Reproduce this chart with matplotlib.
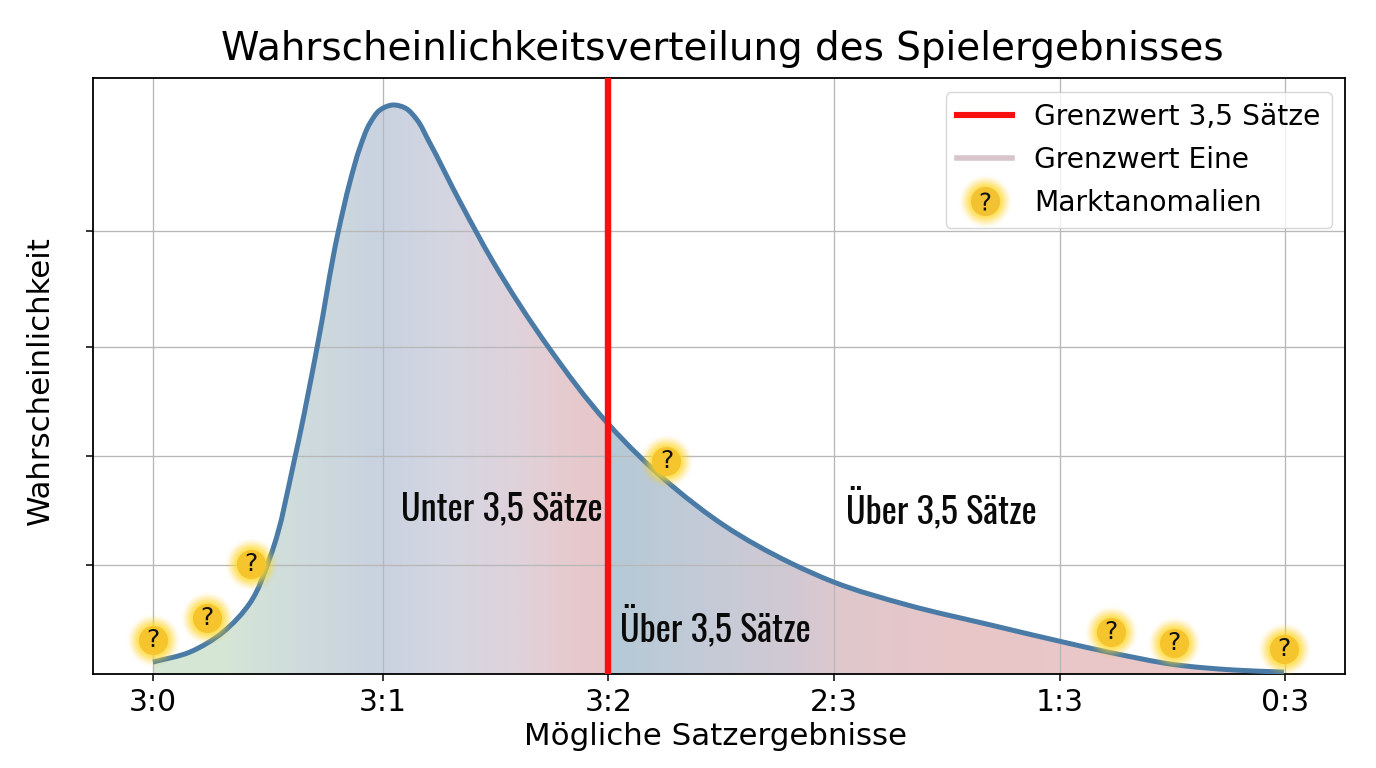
import matplotlib
matplotlib.use("Agg")
import matplotlib.pyplot as plt
import numpy as np
from matplotlib.colors import LinearSegmentedColormap
from matplotlib.legend_handler import HandlerTuple
from matplotlib.lines import Line2D
from matplotlib.patches import PathPatch
from matplotlib.path import Path

# Distribution curve: position on the score axis and probability
curve_x = [0.00, 0.164, 0.310, 0.429, 0.518, 0.628, 0.726, 0.819, 0.872, 0.916, 0.960, 1.004,
           1.062, 1.115, 1.168, 1.217, 1.358, 1.504, 1.748, 2.009, 2.301, 2.522, 2.819, 3.009,
           3.336, 3.704, 4.004, 4.243, 4.513, 4.779, 5.00]
curve_y = [0.012, 0.022, 0.042, 0.071, 0.117, 0.217, 0.327, 0.442, 0.493, 0.527, 0.551, 0.564,
           0.569, 0.566, 0.554, 0.534, 0.472, 0.412, 0.327, 0.251, 0.187, 0.149, 0.111, 0.092,
           0.069, 0.049, 0.033, 0.021, 0.0095, 0.004, 0.002]

# Market anomalies
anomaly_x = [0.00, 0.239, 0.434, 2.270, 4.235, 4.513, 5.00]
anomaly_y = [0.034, 0.056, 0.110, 0.213, 0.042, 0.031, 0.025]

tick_pos = [0.0, 1.018, 2.013, 3.009, 4.009, 5.004]
tick_labels = ["3:0", "3:1", "3:2", "2:3", "1:3", "0:3"]
y_ticks = [0.109, 0.218, 0.327, 0.443]
threshold = 2.013

# Fill colours along the x axis: position, colour
fill_stops = [(-0.27, "#d8e8d4"), (0.30, "#d6e6d6"), (0.62, "#cfdcdc"), (1.0, "#c9d2e0"),
              (1.30, "#d5d6e2"), (1.62, "#e0d2da"), (1.85, "#e6cace"), (2.005, "#e8c6ca"),
              (2.02, "#b5c9d6"), (2.40, "#c3cbd8"), (2.80, "#d0c9d3"), (3.05, "#dfc8cd"),
              (3.50, "#e8c6c9"), (5.27, "#ecc8c8")]

X_MIN, X_MAX = -0.265, 5.27
Y_MAX = 0.596
PX = np.array([226.0, 1000.0])


def smooth_path(xs, ys):
    """Bezier path through every (x, y) pair, with unit tangents measured in pixel space."""
    pts = np.column_stack([xs, ys]) * PX
    chords = np.hypot(*np.diff(pts, axis=0).T)
    arc = np.r_[0, np.cumsum(chords)]
    tangents = np.gradient(pts, arc, axis=0)
    tangents /= np.hypot(*tangents.T)[:, None]
    verts = [pts[0] / PX]
    codes = [Path.MOVETO]
    for i, chord in enumerate(chords):
        step = chord / 3
        verts += [(pts[i] + tangents[i] * step) / PX,
                  (pts[i + 1] - tangents[i + 1] * step) / PX,
                  pts[i + 1] / PX]
        codes += [Path.CURVE4] * 3
    return verts, codes


fig = plt.figure(figsize=(13.76, 7.68), dpi=100)
ax = fig.add_axes([93 / 1376, 1 - 674 / 768, (1345 - 93) / 1376, (674 - 78) / 768])
ax.set_xlim(X_MIN, X_MAX)
ax.set_ylim(0, Y_MAX)

verts, codes = smooth_path(curve_x, curve_y)

# Gradient area under the curve
positions = [(p - X_MIN) / (X_MAX - X_MIN) for p, _ in fill_stops]
positions[0], positions[-1] = 0.0, 1.0
cmap = LinearSegmentedColormap.from_list("fill", list(zip(positions, [c for _, c in fill_stops])))
image = ax.imshow(np.linspace(0, 1, 1400)[None, :], extent=(X_MIN, X_MAX, 0, Y_MAX),
                  aspect="auto", cmap=cmap, zorder=1, interpolation="bilinear")
area = PathPatch(Path(verts + [(curve_x[-1], 0), (curve_x[0], 0), verts[0]],
                      codes + [Path.LINETO, Path.LINETO, Path.CLOSEPOLY]),
                 transform=ax.transData, fc="none", ec="none")
ax.add_patch(area)
image.set_clip_path(area)

ax.set_axisbelow("line")
ax.grid(True, color="#b8b8b8", lw=0.95)

# Curve and threshold
ax.add_patch(PathPatch(Path(verts, codes), fc="none", ec="#4a7ba6", lw=3.6, zorder=3,
                       capstyle="butt"))
ax.axvline(threshold, color="#f81010", lw=4.6, zorder=4)

# Anomaly markers with a soft halo that fades outwards
GLOW = [(38, 0.02), (37, 0.025), (36, 0.03), (35, 0.035), (34, 0.04), (33, 0.05), (32, 0.06),
        (31, 0.07), (30, 0.08), (29, 0.09), (28, 0.10), (27, 0.11), (26, 0.12), (25, 0.13),
        (24, 0.14), (23, 0.15)]
for size, alpha in GLOW:
    ax.plot(anomaly_x, anomaly_y, ls="none", marker="o", ms=size, mfc="#ffdc2c", mec="none",
            alpha=alpha, zorder=5)
ax.plot(anomaly_x, anomaly_y, ls="none", marker="o", ms=21, mfc="#f6c42c", mec="none", zorder=6)
for xv, yv in zip(anomaly_x, anomaly_y):
    ax.text(xv, yv, "?", ha="center", va="center", fontsize=18, color="#111111", zorder=7)

# Region annotations
narrow = ["Oswald", "Roboto", "DejaVu Sans"]
for xv, yv, label in [(1.097, 0.165, "Unter 3,5 Sätze"), (2.065, 0.047, "Über 3,5 Sätze"),
                      (3.065, 0.165, "Über 3,5 Sätze")]:
    ax.text(xv, yv, label, ha="left", va="center", fontsize=26, family=narrow, color="#0a0a0a",
            zorder=7)

ax.set_xticks(tick_pos, tick_labels)
ax.set_yticks(y_ticks, [""] * len(y_ticks))
ax.tick_params(axis="x", labelsize=21.5, length=5, width=1.1, pad=5)
ax.tick_params(axis="y", length=5, width=1.1)
for spine in ax.spines.values():
    spine.set_linewidth(1.3)
ax.set_title("Wahrscheinlichkeitsverteilung des Spielergebnisses", fontsize=28, pad=13, x=0.503)
ax.set_xlabel("Mögliche Satzergebnisse", fontsize=22.2, labelpad=4, x=0.4976)
ax.set_ylabel("Wahrscheinlichkeit", fontsize=22.2, labelpad=19, y=0.492)

# Legend
red = Line2D([], [], color="#f81010", lw=4.4)
pale = Line2D([], [], color="#d8c4cb", lw=4.0)
anomaly_handle = tuple(
    [Line2D([], [], ls="none", marker="o", ms=s, mfc="#ffdc2c", mec="none", alpha=a) for s, a in GLOW]
    + [Line2D([], [], ls="none", marker="o", ms=21, mfc="#f2c232", mec="none"),
       Line2D([], [], ls="none", marker="$?$", ms=13, mfc="#111111", mec="none")]
)
legend = ax.legend([red, pale, anomaly_handle],
                   ["Grenzwert 3,5 Sätze", "Grenzwert Eine", "Marktanomalien"],
                   handler_map={tuple: HandlerTuple(ndivide=1, pad=0)},
                   loc="upper right", fontsize=20.25, framealpha=0.8, handlelength=1.96,
                   borderaxespad=0, bbox_to_anchor=(1332 / 1376, 1 - 92 / 768),
                   bbox_transform=fig.transFigure, labelspacing=0.53, handletextpad=0.79)
legend.set_zorder(8)

fig.savefig("out.png", dpi=100)
